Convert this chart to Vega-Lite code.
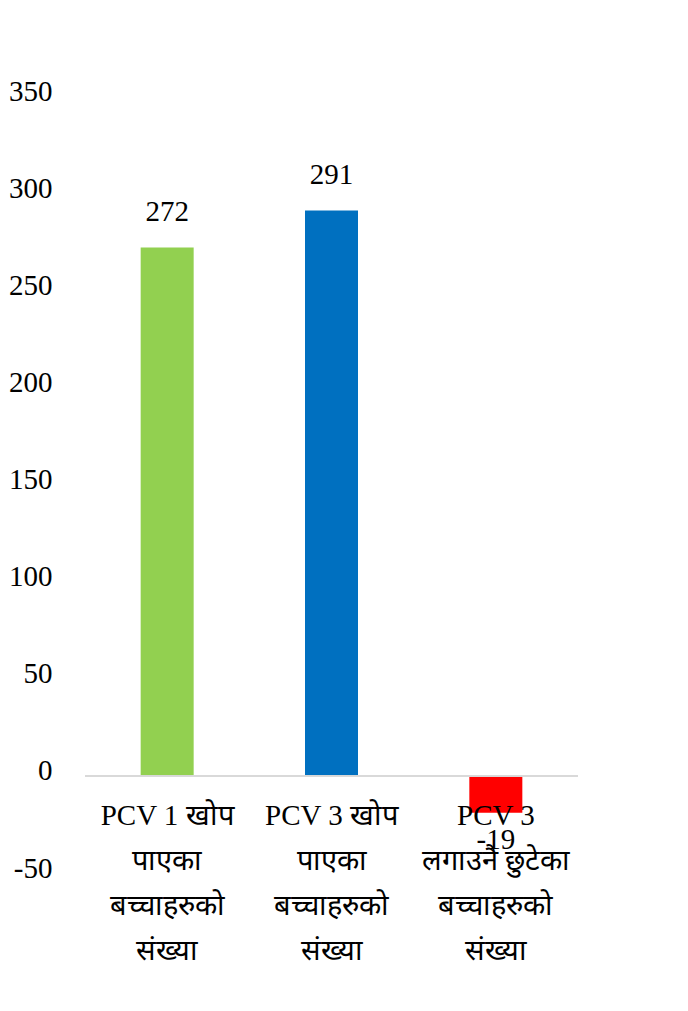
{
  "$schema": "https://vega.github.io/schema/vega-lite/v6.json",
  "autosize": {"type": "none"},
  "padding": {"left": 85, "top": 96, "right": 110, "bottom": 138},
  "width": 493,
  "height": 777,
  "background": "white",
  "config": {"view": {"stroke": null}, "font": "Liberation Serif"},
  "data": {
    "values": [
      {"cat": "PCV 1 खोप|पाएका|बच्चाहरुको|संख्या", "value": 272, "color": "#92D050"},
      {"cat": "PCV 3 खोप|पाएका|बच्चाहरुको|संख्या", "value": 291, "color": "#0070C0"},
      {"cat": "PCV 3|लगाउनै छुटेका|बच्चाहरुको|संख्या", "value": -19, "color": "#FF0000"}
    ]
  },
  "encoding": {
    "x": {
      "field": "cat", "type": "nominal", "sort": null,
      "scale": {"paddingInner": 0, "paddingOuter": 0},
      "axis": {
        "title": null, "labelAngle": 0, "domain": false, "ticks": false,
        "offset": -97, "labelPadding": 39, "zindex": 1,
        "labelExpr": "split(datum.label, '|')",
        "labelFont": "Liberation Serif", "labelFontSize": 29, "labelColor": "#000000",
        "labelLineHeight": 45, "labelBaseline": "middle"
      }
    },
    "y": {
      "field": "value", "type": "quantitative",
      "scale": {"domain": [-50, 350], "nice": false, "zero": true},
      "axis": {
        "title": null, "values": [-50, 0, 50, 100, 150, 200, 250, 300, 350],
        "domain": false, "ticks": false, "grid": false,
        "labelPadding": 33, "labelOffset": -5,
        "labelExpr": "replace(datum.label, '−', '-')",
        "labelFont": "Liberation Serif", "labelFontSize": 29, "labelColor": "#000000"
      }
    }
  },
  "layer": [
    {
      "mark": {"type": "bar", "size": 53},
      "encoding": {"color": {"field": "color", "type": "nominal", "scale": null}}
    },
    {
      "mark": {"type": "rule", "color": "#D9D9D9", "strokeWidth": 1.5},
      "encoding": {"y": {"datum": 0}, "x": null}
    },
    {
      "transform": [{"filter": "datum.value >= 0"}],
      "mark": {"type": "text", "dy": -36, "baseline": "middle", "font": "Liberation Serif", "fontSize": 29, "color": "#000000"},
      "encoding": {"text": {"field": "value", "type": "nominal"}}
    },
    {
      "transform": [{"filter": "datum.value < 0"}],
      "mark": {"type": "text", "dy": 27, "baseline": "middle", "font": "Liberation Serif", "fontSize": 29, "color": "#000000"},
      "encoding": {"text": {"field": "value", "type": "nominal"}}
    }
  ]
}
